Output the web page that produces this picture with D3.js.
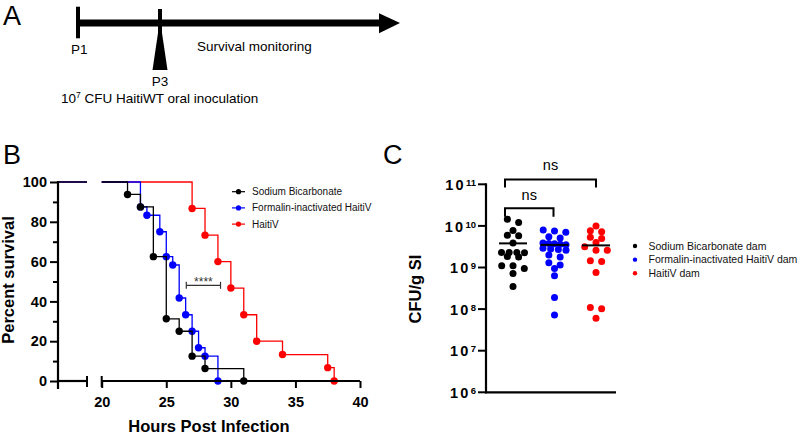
<!DOCTYPE html>
<html><head><meta charset="utf-8">
<script src="https://cdn.jsdelivr.net/npm/d3@7"></script>
<style>
body{margin:0;background:#fff;}
svg{display:block;font-family:"Liberation Sans",Arial,Helvetica,sans-serif;}
</style>
</head><body>
<svg id="c" width="800" height="434"></svg>
<script>
// ---------- DATA ----------
// Panel B: Kaplan-Meier survival (hours post infection, percent survival after each event)
const survivalGroups = ["Sodium Bicarbonate", "Formalin-inactivated HaitiV", "HaitiV"];
const survivalColors = ["#000000", "#0000ff", "#ff0000"];
const hoursBicarb   = [22, 23, 24, 25, 26, 27, 28, 31];
const survBicarb    = [93.75, 87.5, 62.5, 31.25, 25, 12.5, 6.25, 0];
const hoursFormalin = [23, 23.5, 24.5, 25, 25.5, 26, 26.5, 27, 27.5, 28, 29];
const survFormalin  = [87.5, 83.3, 75, 62.5, 58.3, 41.7, 33.3, 25, 16.7, 12.5, 0];
const hoursHaitiV   = [27, 28, 29, 30, 31, 32, 34, 37.5, 38];
const survHaitiV    = [86.7, 73.3, 60, 46.7, 33.3, 20, 13.3, 6.7, 0];
const yTicksB = [0, 20, 40, 60, 80, 100];
const yMinorB = [10, 30, 50, 70, 90];
const xTicksB = [20, 25, 30, 35, 40];
const sigBracketB = [26.55, 29.2];   // hours spanned by the **** bracket
const sigLabelB = "****";

// Panel C: CFU / g small intestine
const damGroups = ["Sodium Bicarbonate dam", "Formalin-inactivated HaitiV dam", "HaitiV dam"];
const damColors = ["#000000", "#0000ff", "#ff0000"];
const cfuBicarb = [1.45e10, 1.2e10, 7.7e9, 6.0e9, 5.8e9, 3.9e9, 2.3e9, 2.3e9, 2.3e9, 2.25e9,
                   1.85e9, 1.8e9, 1.1e9, 1.1e9, 9.5e8, 7.2e8, 3.5e8];
const cfuFormalin = [8.0e9, 7.5e9, 7.0e9, 5.5e9, 5.1e9, 3.9e9, 3.8e9, 3.7e9, 3.6e9, 3.5e9,
                     2.9e9, 2.8e9, 2.7e9, 2.6e9, 2.0e9, 1.8e9, 1.3e9, 1.15e9, 9.5e8, 6.3e8,
                     1.9e8, 7.2e7];
const cfuHaitiV = [1.0e10, 7.6e9, 7.2e9, 5.3e9, 5.0e9, 4.0e9, 3.15e9, 2.6e9, 2.6e9, 1.45e9,
                   1.4e9, 7.6e8, 1.1e8, 1.02e8, 6.0e7];
const cfuMedians = [3.8e9, 3.5e9, 3.4e9];
const yTicksC = [1e6, 1e7, 1e8, 1e9, 1e10, 1e11];
const nsLabel = "ns";

// ---------- DRAW ----------
const svg = d3.select("#c");

// Panel letters
svg.append("text").attr("x", 3).attr("y", 25).attr("font-size", 27).text("A");
svg.append("text").attr("x", 3).attr("y", 164).attr("font-size", 27).text("B");
svg.append("text").attr("x", 383).attr("y", 164).attr("font-size", 27).text("C");

// ---------- Panel A schematic ----------
const gA = svg.append("g");
gA.append("line").attr("x1", 78).attr("x2", 381).attr("y1", 23).attr("y2", 23)
  .attr("stroke", "#000").attr("stroke-width", 7);
gA.append("polygon").attr("points", "379,13.3 400,23 379,33.3").attr("fill", "#000");
gA.append("line").attr("x1", 78).attr("x2", 78).attr("y1", 6.7).attr("y2", 38.3)
  .attr("stroke", "#000").attr("stroke-width", 4);
gA.append("line").attr("x1", 160).attr("x2", 160).attr("y1", 9).attr("y2", 34)
  .attr("stroke", "#000").attr("stroke-width", 4);
gA.append("polygon").attr("points", "158,33 162,33 167.5,70 152.5,70").attr("fill", "#000");
gA.append("text").attr("x", 71).attr("y", 54).attr("font-size", 13.5).text("P1");
gA.append("text").attr("x", 160).attr("y", 86).attr("font-size", 13.5).attr("text-anchor", "middle").text("P3");
gA.append("text").attr("x", 197).attr("y", 51).attr("font-size", 13.5).text("Survival monitoring");
const inoc = gA.append("text").attr("x", 61).attr("y", 103).attr("font-size", 13.5);
inoc.append("tspan").text("10");
inoc.append("tspan").attr("font-size", 8.5).attr("dy", -5).text("7");
inoc.append("tspan").attr("dy", 5).text(" CFU HaitiWT oral inoculation");

// ---------- Panel B survival ----------
const xL = d3.scaleLinear().domain([0, 20]).range([58, 87]);
const xR = d3.scaleLinear().domain([20, 40]).range([101.7, 360]);
const yB = d3.scaleLinear().domain([0, 100]).range([381, 182]);

const survSeries = [
  {name: survivalGroups[0], color: survivalColors[0], t: hoursBicarb, s: survBicarb},
  {name: survivalGroups[1], color: survivalColors[1], t: hoursFormalin, s: survFormalin},
  {name: survivalGroups[2], color: survivalColors[2], t: hoursHaitiV, s: survHaitiV}
];
const gB = svg.append("g");
const stepLine = d3.line().x(d => xR(d[0])).y(d => yB(d[1])).curve(d3.curveStepAfter);
survSeries.slice().reverse().forEach(ser => {
  const pts = [[20, 100]].concat(ser.t.map((t, i) => [t, ser.s[i]]));
  gB.append("line").attr("x1", xL(0)).attr("x2", xL(20)).attr("y1", yB(100)).attr("y2", yB(100))
    .attr("stroke", ser.color).attr("stroke-width", 1.3);
  gB.append("path").attr("d", stepLine(pts)).attr("fill", "none")
    .attr("stroke", ser.color).attr("stroke-width", 1.3);
  gB.selectAll(null).data(ser.t.map((t, i) => [t, ser.s[i]])).join("circle")
    .attr("cx", d => xR(d[0])).attr("cy", d => yB(d[1])).attr("r", 3.7).attr("fill", ser.color);
});

// Y axis B
const gyB = svg.append("g").attr("transform", "translate(58,0)");
gyB.call(d3.axisLeft(yB).tickValues(yTicksB).tickSize(8).tickPadding(3));
gyB.select(".domain").remove();
const gyBm = svg.append("g").attr("transform", "translate(58,0)");
gyBm.call(d3.axisLeft(yB).tickValues(yMinorB).tickSize(5).tickFormat(""));
gyBm.select(".domain").remove();
[gyB, gyBm].forEach(g => g.selectAll(".tick line").attr("stroke", "#000").attr("stroke-width", 2));
gyB.selectAll(".tick text").attr("font-size", 14.5).attr("font-weight", "bold").attr("fill", "#000")
  .attr("font-family", "Liberation Sans, Arial, sans-serif");
svg.append("line").attr("x1", 58).attr("x2", 58).attr("y1", yB(100) - 1).attr("y2", 389)
  .attr("stroke", "#000").attr("stroke-width", 2.2);

// X axis B (broken)
const gxB = svg.append("g").attr("transform", "translate(0,381)");
gxB.call(d3.axisBottom(xR).tickValues(xTicksB).tickSize(7).tickPadding(9));
gxB.select(".domain").remove();
gxB.selectAll(".tick line").attr("stroke", "#000").attr("stroke-width", 2);
gxB.selectAll(".tick text").attr("font-size", 14.5).attr("font-weight", "bold").attr("fill", "#000")
  .attr("font-family", "Liberation Sans, Arial, sans-serif");
svg.append("line").attr("x1", xR(20)).attr("x2", xR(40)).attr("y1", 381).attr("y2", 381)
  .attr("stroke", "#000").attr("stroke-width", 2.2);
svg.append("line").attr("x1", xR(20)).attr("x2", xR(20)).attr("y1", 376).attr("y2", 387)
  .attr("stroke", "#000").attr("stroke-width", 2);
svg.append("line").attr("x1", xL(0)).attr("x2", xL(20)).attr("y1", 381).attr("y2", 381)
  .attr("stroke", "#000").attr("stroke-width", 2.2);
svg.append("line").attr("x1", xL(20)).attr("x2", xL(20)).attr("y1", 376).attr("y2", 387)
  .attr("stroke", "#000").attr("stroke-width", 2);

svg.append("text").attr("x", 209).attr("y", 432).attr("text-anchor", "middle")
  .attr("font-size", 16.5).attr("font-weight", "bold").text("Hours Post Infection");
svg.append("text").attr("transform", "translate(13.5,280) rotate(-90)").attr("text-anchor", "middle")
  .attr("font-size", 16.5).attr("font-weight", "bold").text("Percent survival");

// significance bracket B
const bx1 = xR(sigBracketB[0]), bx2 = xR(sigBracketB[1]), by = 285.3;
const gSig = svg.append("g").attr("stroke", "#333").attr("stroke-width", 1.2);
gSig.append("line").attr("x1", bx1).attr("x2", bx2).attr("y1", by).attr("y2", by);
gSig.append("line").attr("x1", bx1).attr("x2", bx1).attr("y1", by - 3.5).attr("y2", by + 3.5);
gSig.append("line").attr("x1", bx2).attr("x2", bx2).attr("y1", by - 3.5).attr("y2", by + 3.5);
svg.append("text").attr("x", (bx1 + bx2) / 2).attr("y", 285.5).attr("text-anchor", "middle")
  .attr("font-size", 12).attr("fill", "#333").text(sigLabelB);

// legend B
const legB = svg.append("g");
survSeries.forEach((ser, i) => {
  const y = 191.7 + i * 16.2;
  legB.append("line").attr("x1", 232).attr("x2", 245).attr("y1", y).attr("y2", y)
    .attr("stroke", ser.color).attr("stroke-width", 1.2);
  legB.append("circle").attr("cx", 238.5).attr("cy", y).attr("r", 2.6).attr("fill", ser.color);
  legB.append("text").attr("x", 252).attr("y", y).attr("dy", "0.35em").attr("font-size", 10)
    .attr("fill", "#111").text(ser.name);
});

// ---------- Panel C ----------
const yC = d3.scaleLog().domain([1e6, 1e11]).range([392.3, 184.3]);
const xC = d3.scalePoint().domain(damGroups).range([513, 596]);
const cfuSets = [cfuBicarb, cfuFormalin, cfuHaitiV];
const rC = 3.5;

// scatter-dot layout: points with nearly equal y share a row, spread symmetrically
function rowLayout(values, cx) {
  const pts = values.map(v => ({v, y: yC(v)})).sort((a, b) => a.y - b.y);
  const rows = [];
  let cur = null;
  pts.forEach(p => {
    if (!cur || p.y - cur[0].y > 4 || p.y - cur[cur.length - 1].y > 3.5) { cur = [p]; rows.push(cur); }
    else cur.push(p);
  });
  rows.forEach(row => {
    const n = row.length;
    const step = n > 1 ? Math.min(11.3, 23 / (n - 1)) : 0;
    row.forEach((p, i) => { p.x = cx + (i - (n - 1) / 2) * step; });
  });
  return pts;
}

const gC = svg.append("g");
cfuSets.forEach((vals, i) => {
  const pts = rowLayout(vals, xC(damGroups[i]));
  gC.selectAll(null).data(pts).join("circle")
    .attr("cx", d => d.x).attr("cy", d => d.y).attr("r", rC).attr("fill", damColors[i]);
});
cfuMedians.forEach((m, i) => {
  const cx = xC(damGroups[i]);
  gC.append("line").attr("x1", cx - 14).attr("x2", cx + 14).attr("y1", yC(m)).attr("y2", yC(m))
    .attr("stroke", "#000").attr("stroke-width", 2);
});

// axes C
svg.append("line").attr("x1", 486).attr("x2", 486).attr("y1", yC(1e11) - 1).attr("y2", yC(1e6) + 1)
  .attr("stroke", "#000").attr("stroke-width", 2.2);
svg.append("line").attr("x1", 485).attr("x2", 616).attr("y1", yC(1e6)).attr("y2", yC(1e6))
  .attr("stroke", "#000").attr("stroke-width", 2.2);
const gyC = svg.append("g");
yTicksC.forEach(t => {
  const y = yC(t);
  gyC.append("line").attr("x1", 478).attr("x2", 486).attr("y1", y).attr("y2", y)
    .attr("stroke", "#000").attr("stroke-width", 2);
  const tx = gyC.append("text").attr("x", 476).attr("y", y + 5.7).attr("text-anchor", "end")
    .attr("font-weight", "bold");
  tx.append("tspan").attr("font-size", 14.5).attr("letter-spacing", 2.3).text("10");
  tx.append("tspan").attr("font-size", 9.5).attr("dy", -4).text(String(Math.round(Math.log10(t))));
});
svg.append("text").attr("transform", "translate(421,289) rotate(-90)").attr("text-anchor", "middle")
  .attr("font-size", 16.5).attr("font-weight", "bold").text("CFU/g SI");

// ns brackets
function bracket(xa, xb, y, drop, ty) {
  const g = svg.append("g").attr("stroke", "#000").attr("stroke-width", 2).attr("fill", "none");
  g.append("path").attr("d", `M${xa},${y + drop}V${y}H${xb}V${y + drop}`);
  svg.append("text").attr("x", (xa + xb) / 2).attr("y", ty).attr("text-anchor", "middle")
    .attr("font-size", 14.5).text(nsLabel);
}
bracket(xC(damGroups[0]) - 8, xC(damGroups[2]), 179.5, 8, 169.5);
bracket(xC(damGroups[0]) - 8, xC(damGroups[1]) - 1, 208.3, 8.5, 200);

// legend C
const legC = svg.append("g");
damGroups.forEach((g, i) => {
  const y = 246 + i * 13.65;
  legC.append("circle").attr("cx", 635).attr("cy", y).attr("r", 2.2).attr("fill", damColors[i]);
  legC.append("text").attr("x", 648.5).attr("y", y).attr("dy", "0.35em").attr("font-size", 10.5)
    .attr("fill", "#111").text(g);
});
</script>
</body></html>
